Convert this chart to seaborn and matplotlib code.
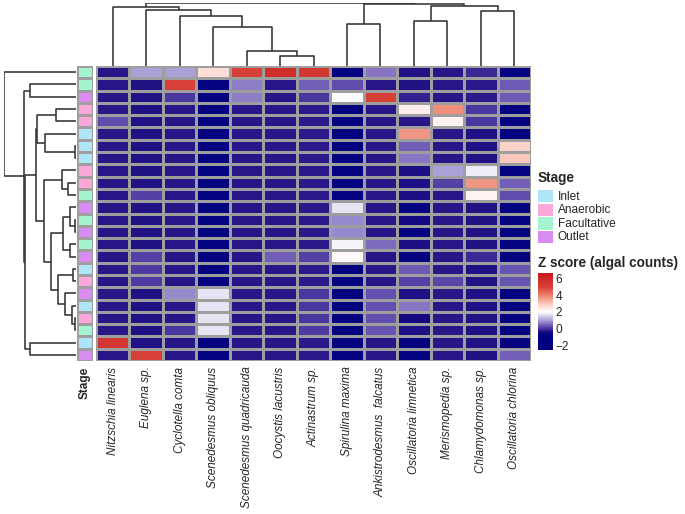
import matplotlib
matplotlib.use("Agg")
import matplotlib.pyplot as plt
import seaborn as sns
import pandas as pd
from matplotlib.colors import LinearSegmentedColormap, ListedColormap, Normalize
from matplotlib.cm import ScalarMappable
from matplotlib.patches import Rectangle

# species in column order (after clustering)
species = ["Nitzschia linearis", "Euglena sp.", "Cyclotella comta",
           "Scenedesmus obliquus", "Scenedesmus quadricauda", "Oocystis lacustris",
           "Actinastrum sp.", "Spirulina maxima", "Ankistrodesmus  falcatus",
           "Oscillatoria limnetica", "Merismopedia sp.", "Chlamydomonas sp.",
           "Oscillatoria chlorina"]

# stage of every sample, in row order (after clustering)
stages = ["Facultative", "Facultative", "Outlet", "Anaerobic", "Anaerobic",
          "Inlet", "Inlet", "Inlet", "Anaerobic", "Anaerobic", "Facultative",
          "Outlet", "Facultative", "Outlet", "Facultative", "Outlet", "Inlet",
          "Anaerobic", "Outlet", "Inlet", "Anaerobic", "Facultative", "Inlet",
          "Outlet"]
stage_levels = ["Inlet", "Anaerobic", "Facultative", "Outlet"]
stage_colors = ["#AEE6F8", "#F9A8D8", "#A4F4CF", "#D98CF0"]

# z scores, one list per sample (row)
z_scores = [
    [-0.3, 1.0, 1.0, 2.6, 5.0, 5.8, 5.4, -0.7, 0.6, -0.35, -0.3, -0.1, -0.7],
    [-0.3, -0.35, 5.0, -0.7, 0.7, -0.3, 0.4, 0.2, -0.3, -0.35, -0.3, -0.25, 0.35],
    [-0.3, -0.35, 0.0, -0.7, 0.7, -0.3, 0.0, 1.95, 5.0, -0.2, -0.3, -0.25, 0.35],
    [-0.3, -0.35, -0.3, -0.7, -0.3, -0.3, -0.25, -0.7, -0.3, 2.3, 3.8, 0.0, -0.7],
    [0.2, -0.35, -0.3, -0.7, -0.3, -0.3, -0.25, -0.7, -0.3, -0.3, 2.2, 0.0, -0.7],
    [-0.3, -0.35, -0.3, -0.7, -0.3, -0.3, -0.25, -0.7, -0.3, 3.7, -0.3, -0.35, -0.7],
    [-0.3, -0.35, -0.3, -0.7, -0.3, -0.3, -0.25, -0.7, -0.3, 0.4, -0.3, -0.35, 2.8],
    [-0.3, -0.35, -0.3, -0.7, -0.3, -0.3, -0.25, -0.7, -0.3, 0.6, -0.3, -0.35, 3.0],
    [-0.3, -0.35, -0.3, -0.7, -0.3, -0.3, -0.25, -0.7, -0.3, -0.4, 1.0, 1.8, -0.7],
    [-0.3, -0.35, -0.3, -0.7, -0.3, -0.3, -0.25, -0.7, -0.3, -0.4, 0.1, 3.7, 0.4],
    [-0.3, 0.1, -0.3, -0.7, -0.3, -0.3, -0.25, -0.7, -0.3, -0.4, -0.3, 2.2, 0.2],
    [-0.3, -0.35, -0.3, -0.7, -0.3, -0.3, -0.25, 1.7, -0.3, -0.7, -0.3, -0.35, -0.7],
    [-0.3, -0.35, -0.3, -0.7, -0.3, -0.3, -0.25, 0.8, -0.3, -0.5, -0.3, -0.35, -0.7],
    [-0.3, -0.35, -0.3, -0.7, -0.3, -0.3, -0.25, 0.8, -0.3, -0.7, -0.3, -0.35, -0.7],
    [-0.3, -0.35, -0.3, -0.7, -0.3, -0.3, -0.25, 1.9, 0.5, -0.4, -0.3, -0.35, -0.7],
    [-0.3, 0.1, -0.3, -0.7, -0.3, 0.4, 0.1, 2.1, -0.3, -0.7, -0.3, -0.1, -0.7],
    [-0.3, 0.05, -0.3, -0.7, -0.3, -0.3, -0.25, -0.7, -0.3, 0.35, -0.3, -0.35, 0.3],
    [-0.3, 0.05, -0.3, -0.7, -0.3, -0.3, -0.25, -0.7, -0.3, 0.1, 0.15, -0.35, 0.3],
    [-0.3, -0.35, 0.8, 1.7, -0.3, -0.3, 0.0, -0.7, 0.25, -0.4, -0.3, -0.35, -0.7],
    [-0.3, -0.35, -0.3, 1.7, -0.3, -0.3, 0.0, -0.7, 0.25, 0.6, -0.3, -0.35, -0.7],
    [-0.3, -0.35, -0.3, 1.7, -0.3, -0.3, 0.0, -0.7, 0.25, -0.5, -0.3, -0.35, -0.7],
    [-0.3, -0.35, 0.0, 1.7, -0.3, -0.3, 0.05, -0.7, 0.3, -0.4, -0.3, -0.35, -0.7],
    [5.5, -0.35, -0.3, -0.7, -0.3, -0.3, -0.25, -0.7, -0.3, -0.7, -0.3, -0.35, -0.7],
    [-0.3, 5.0, -0.3, -0.7, -0.3, -0.3, -0.25, -0.7, -0.3, -0.7, -0.3, -0.35, 0.4],
]

# dendrograms: leaf = index, node = (left, right, height)
rows_4_8 = ((3, 4, 57), (5, (6, 7, 4), 89), 114)
rows_9_22 = ((8, (9, 10, 22), 42),
             (((11, (12, 13, 4), 17), (14, 15, 17), 37),
              ((16, 17, 9), (18, (19, (20, 21, 4), 12), 32), 52), 74), 94)
row_tree = (0, ((1, 2, 134),
                ((rows_4_8, rows_9_22, 116), (22, 23, 134), 149), 151), 210)

col_tree = ((0, (1, (2, (3, (4, (5, 6, 29), 43), 116), 149), 165), 173),
            ((7, 8, 123), ((9, 10, 134), (11, 12, 161), 178), 183), 186)

vmin, vmax = -2.6, 6.7
nodes = [(-2.6, "#000080"), (-0.8, "#000080"), (-0.5, "#14097f"), (-0.25, "#2d1a8c"),
         (0.0, "#4b37a0"), (0.5, "#7d69be"), (1.0, "#aaa0d7"), (2.0, "#ffffff"),
         (3.0, "#fac8be"), (4.0, "#ee826e"), (5.0, "#d74137"), (6.7, "#c8191e")]
cmap = LinearSegmentedColormap.from_list(
    "zs", [((v - vmin) / (vmax - vmin), c) for v, c in nodes])

sns.set_style("white")
plt.rcParams['font.family'] = ['Liberation Sans', 'DejaVu Sans']

W, H = 685, 514
fig = plt.figure(figsize=(W / 100, H / 100), dpi=100)


def box(x0, y0, x1, y1):
    return [x0 / W, 1 - y1 / H, (x1 - x0) / W, (y1 - y0) / H]


df = pd.DataFrame(z_scores, columns=species)

ax_hm = fig.add_axes(box(96, 66, 531, 361))
sns.heatmap(df, ax=ax_hm, cmap=cmap, vmin=vmin, vmax=vmax, cbar=False,
            linewidths=0.9, linecolor="#9e9e9e", xticklabels=True, yticklabels=False)
ax_hm.tick_params(length=0, pad=4)
for t in ax_hm.get_xticklabels():
    t.set_rotation(90)
    t.set_fontstyle("italic")
    t.set_fontsize(8.5)
    t.set_va("top")
    t.set_ha("center")

codes = pd.DataFrame({"Stage": [stage_levels.index(s) for s in stages]})
ax_an = fig.add_axes(box(77, 66, 93, 361))
sns.heatmap(codes, ax=ax_an, cmap=ListedColormap(stage_colors), vmin=-0.5, vmax=3.5,
            cbar=False, linewidths=0.9, linecolor="#9e9e9e", yticklabels=False)
ax_an.tick_params(length=0, pad=4)
for t in ax_an.get_xticklabels():
    t.set_rotation(90)
    t.set_fontweight("bold")
    t.set_fontsize(8.5)
    t.set_va("top")


def draw_tree(ax, node, top):
    if isinstance(node, int):
        return node + 0.5, 0.0
    left, right, h = node
    p1, h1 = draw_tree(ax, left, top)
    p2, h2 = draw_tree(ax, right, top)
    a, b = [p1, p1, p2, p2], [h1, h, h, h2]
    if top:
        ax.plot(a, b, color="#333333", lw=1.15, solid_capstyle="butt")
    else:
        ax.plot(b, a, color="#333333", lw=1.15, solid_capstyle="butt")
    return (p1 + p2) / 2, h


ax_cd = fig.add_axes(box(96, 3, 531, 66))
draw_tree(ax_cd, col_tree, True)
ax_cd.set_xlim(0, len(species))
ax_cd.set_ylim(0, col_tree[2])
ax_cd.axis("off")

ax_rd = fig.add_axes(box(4, 66, 76, 361))
draw_tree(ax_rd, row_tree, False)
ax_rd.set_ylim(len(stages), 0)
ax_rd.set_xlim(row_tree[2], 0)
ax_rd.axis("off")

# Stage legend
fig.text(538 / W, 1 - 178 / H, "Stage", fontsize=9.8, fontweight="bold", va="center")
for i, (lab, col) in enumerate(zip(stage_levels, stage_colors)):
    y0 = 190 + i * 13.6
    fig.patches.append(Rectangle((538 / W, 1 - (y0 + 12.5) / H), 15 / W, 12.5 / H,
                                 transform=fig.transFigure, facecolor=col, edgecolor="none"))
    fig.text(558 / W, 1 - (y0 + 6.5) / H, lab, fontsize=8.6, va="center")

# Z score colour legend
fig.text(538 / W, 1 - 263 / H, "Z score (algal counts)", fontsize=9.8,
         fontweight="bold", va="center")
cax = fig.add_axes(box(538, 273, 553, 350))
cb = fig.colorbar(ScalarMappable(Normalize(vmin, vmax), cmap), cax=cax)
cb.outline.set_visible(False)
cb.set_ticks([-2, 0, 2, 4, 6])
cb.set_ticklabels(["\u22122", "0", "2", "4", "6"])
cax.tick_params(direction="in", color="white", length=3, width=1,
                left=True, right=True, labelsize=8.6, pad=2)

fig.savefig("out.png", dpi=100)
